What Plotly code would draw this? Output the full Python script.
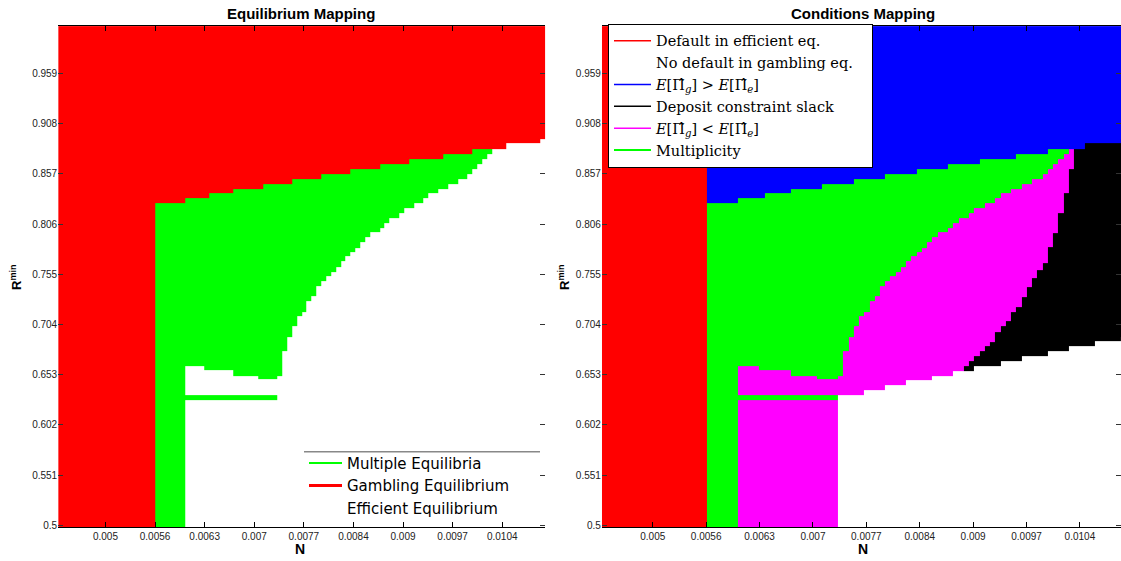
import plotly.graph_objects as go

# ---------------- grid / axes ----------------
N_FIRST_EDGE = 0.004352      # left edge of first N column
N_STEP = 0.0000668           # width of one N column
N_COLUMNS = 100
R_AXIS = [0.498, 1.0071]     # visible R^min window

N_TICK_VALUES = [0.005, 0.00568, 0.00636, 0.00704, 0.00772, 0.0084, 0.00908, 0.00976, 0.01044]
N_TICK_LABELS = ["0.005", "0.0056", "0.0063", "0.007", "0.0077", "0.0084", "0.009", "0.0097", "0.0104"]
R_TICK_VALUES = [0.5, 0.551, 0.602, 0.653, 0.704, 0.755, 0.806, 0.857, 0.908, 0.959]
R_TICK_LABELS = ["0.5", "0.551", "0.602", "0.653", "0.704", "0.755", "0.806", "0.857", "0.908", "0.959"]

# ---------------- regions ----------------
# N below which only the gambling equilibrium exists (default in efficient eq.)
DEFAULT_N_LIMIT = 0.005688

# thin horizontal multiplicity band
BAND_N = [0.006089, 0.007358]
BAND_R = [0.627, 0.632]

# per-column boundaries (R^min) for the 80 columns to the right of DEFAULT_N_LIMIT
# lower edge of the gambling region (red on the left, blue on the right)
GAMBLE_FLOOR = [
    0.827, 0.827, 0.827, 0.827, 0.827, 0.827,
    0.832, 0.832, 0.832, 0.832, 0.832,
    0.837, 0.837, 0.837, 0.837, 0.837,
    0.842, 0.842, 0.842, 0.842, 0.842, 0.842,
    0.847, 0.847, 0.847, 0.847, 0.847, 0.847,
    0.852, 0.852, 0.852, 0.852, 0.852, 0.852,
    0.857, 0.857, 0.857, 0.857, 0.857, 0.857,
    0.862, 0.862, 0.862, 0.862, 0.862, 0.862,
    0.867, 0.867, 0.867, 0.867, 0.867, 0.867,
    0.872, 0.872, 0.872, 0.872, 0.872, 0.872, 0.872,
    0.877, 0.877, 0.877, 0.877, 0.877, 0.877,
    0.882, 0.882, 0.882, 0.882, 0.882, 0.882, 0.882,
    0.888, 0.888, 0.888, 0.888, 0.888, 0.888, 0.888,
    0.892,
]

# lower edge of the main multiplicity region (None = no multiplicity)
MULTI_FLOOR = [
    0.5, 0.5, 0.5, 0.5, 0.5, 0.5,
    0.662, 0.662, 0.662, 0.662,
    0.658, 0.658, 0.658, 0.658, 0.658, 0.658,
    0.652, 0.652, 0.652, 0.652, 0.652,
    0.648, 0.648, 0.648, 0.648,
    0.652, 0.677, 0.691, 0.702, 0.712, 0.717, 0.728, 0.733, 0.743, 0.748,
    0.753, 0.757, 0.762, 0.768, 0.773, 0.777, 0.782, 0.788, 0.793, 0.798,
    0.798, 0.802, 0.807, 0.812, 0.812, 0.817, 0.822, 0.822, 0.827, 0.827,
    0.832, 0.837, 0.837, 0.842, 0.842, 0.847, 0.847, 0.852, 0.852, 0.857,
    0.862, 0.867, 0.872, 0.877,
    None, None, None, None, None, None, None, None, None, None, None,
]

# upper edge of the plain efficient region in the conditions map (None = absent)
EFFICIENT_CEIL = [
    None, None, None, None, None, None, None, None, None, None,
    None, None, None, None, None, None, None, None, None, None,
    None, None, None, None, None,
    0.632, 0.632, 0.632, 0.632, 0.632,
    0.637, 0.637, 0.637, 0.637,
    0.642, 0.642, 0.642, 0.642,
    0.647, 0.647, 0.647, 0.647, 0.647,
    0.652, 0.652, 0.652, 0.652,
    0.657, 0.657, 0.657, 0.657,
    0.662, 0.662, 0.662, 0.662, 0.662,
    0.667, 0.667, 0.667, 0.667,
    0.672, 0.672, 0.672, 0.672, 0.672,
    0.677, 0.677, 0.677, 0.677,
    0.682, 0.682, 0.682, 0.682, 0.682,
    0.687, 0.687, 0.687, 0.687, 0.687,
    0.691,
]

# upper edge of the "deposit constraint slack" region (None = absent)
SLACK_CEIL = [
    None, None, None, None, None, None, None, None, None, None,
    None, None, None, None, None, None, None, None, None, None,
    None, None, None, None, None, None, None, None, None, None,
    None, None, None, None, None, None, None, None, None, None,
    None, None, None, None, None, None, None, None, None,
    0.662, 0.667, 0.672, 0.677, 0.682, 0.686, 0.696, 0.702, 0.707, 0.717,
    0.722, 0.732, 0.742, 0.751, 0.759, 0.766, 0.783, 0.797, 0.817, 0.837,
    0.862, 0.882, 0.882,
    0.888, 0.888, 0.888, 0.888, 0.888, 0.888, 0.888,
    0.892,
]

# ---------------- build cells ----------------
WHITE, RED, GREEN, BLUE, MAGENTA, BLACK = range(6)
COLORS = ["#ffffff", "#ff0000", "#00ff00", "#0000ff", "#ff00ff", "#000000"]

n_edges = [N_FIRST_EDGE + i * N_STEP for i in range(N_COLUMNS + 1)]
n_centers = [(a + b) / 2 for a, b in zip(n_edges[:-1], n_edges[1:])]
offset = N_COLUMNS - len(GAMBLE_FLOOR)

bounds = set(BAND_R)
for lst in (GAMBLE_FLOOR, MULTI_FLOOR, EFFICIENT_CEIL, SLACK_CEIL):
    for v in lst:
        if v is not None and R_AXIS[0] + 0.003 < v < R_AXIS[1]:
            bounds.add(v)
r_edges = [R_AXIS[0]] + sorted(bounds) + [R_AXIS[1]]
r_centers = [(a + b) / 2 for a, b in zip(r_edges[:-1], r_edges[1:])]


def region(panel, k, r):
    n = n_centers[k]
    if n < DEFAULT_N_LIMIT:
        return RED
    j = k - offset
    if r >= GAMBLE_FLOOR[j]:
        return RED if panel == "left" else BLUE
    mf = MULTI_FLOOR[j]
    if mf is not None and r >= mf:
        return GREEN
    if BAND_N[0] <= n < BAND_N[1] and BAND_R[0] <= r < BAND_R[1]:
        return GREEN
    if panel == "left":
        return WHITE
    ec = EFFICIENT_CEIL[j]
    if ec is not None and r < ec:
        return WHITE
    sc = SLACK_CEIL[j]
    if sc is not None and r < sc:
        return BLACK
    return MAGENTA


z_left = [[region("left", k, r) for k in range(N_COLUMNS)] for r in r_centers]
z_right = [[region("right", k, r) for k in range(N_COLUMNS)] for r in r_centers]

colorscale = []
for i, c in enumerate(COLORS):
    colorscale += [[i / 6, c], [(i + 1) / 6, c]]

fig = go.Figure()
for z, xa, ya in ((z_left, "x", "y"), (z_right, "x2", "y2")):
    fig.add_trace(go.Heatmap(
        x=n_edges, y=r_edges, z=z, colorscale=colorscale, zmin=-0.5, zmax=5.5,
        showscale=False, hoverinfo="skip", showlegend=False, xaxis=xa, yaxis=ya,
    ))

# ---------------- legends ----------------
LEFT_LEGEND = [("Multiple Equilibria", "#00ff00", 2), ("Gambling Equilibrium", "#ff0000", 3),
               ("Efficient Equilibrium", "#ffffff", 2)]
RIGHT_LEGEND = [
    ("Default in efficient eq.", "#ff0000", 1.5),
    ("No default in gambling eq.&nbsp;&nbsp;&nbsp;", "#ffffff", 1.5),
    ("<i>E</i>[Π̂<sub><i>g</i></sub>] &gt; <i>E</i>[Π̂<sub><i>e</i></sub>]", "#0000ff", 1.5),
    ("Deposit constraint slack", "#000000", 1.5),
    ("<i>E</i>[Π̂<sub><i>g</i></sub>] &lt; <i>E</i>[Π̂<sub><i>e</i></sub>]", "#ff00ff", 1.5),
    ("Multiplicity", "#00ff00", 2),
]
for name, col, w in LEFT_LEGEND:
    fig.add_trace(go.Scatter(x=[None], y=[None], mode="lines", name=name,
                             line=dict(color=col, width=w), legend="legend", xaxis="x", yaxis="y"))
for name, col, w in RIGHT_LEGEND:
    fig.add_trace(go.Scatter(x=[None], y=[None], mode="lines", name=name,
                             line=dict(color=col, width=w), legend="legend2", xaxis="x2", yaxis="y2"))

W, H = 1121, 561
px = lambda v: v / W
py = lambda v: 1 - v / H

COL_PX_RIGHT = 5.245   # pixels per N column in the right panel
right_end = n_edges[0] + (W - 601.9) / COL_PX_RIGHT * N_STEP

tickfont = dict(family="Liberation Sans, Arial", size=10, color="#222222")
x_common = dict(tickvals=N_TICK_VALUES, ticktext=N_TICK_LABELS, ticks="inside", ticklen=5,
                tickcolor="#000000", showline=True, linecolor="#000000", linewidth=1, mirror="ticks",
                showgrid=False, zeroline=False, tickfont=tickfont)
y_common = dict(tickvals=R_TICK_VALUES, ticktext=R_TICK_LABELS, ticks="inside", ticklen=5,
                tickcolor="#333333", showline=False, mirror="ticks", range=R_AXIS,
                showgrid=False, zeroline=False, tickfont=tickfont, domain=[py(531), py(26.3)])


def ann(text, x, y, size, angle=0, height=None):
    d = dict(text=text, x=px(x), y=py(y), xref="paper", yref="paper", xanchor="center",
             yanchor="middle", showarrow=False, textangle=angle,
             font=dict(size=size, color="#000000"))
    if height:
        d["height"] = height
    return d


fig.update_layout(
    width=W, height=H, margin=dict(l=0, r=0, t=0, b=0),
    paper_bgcolor="#ffffff", plot_bgcolor="#ffffff",
    font=dict(family="Liberation Sans, Arial", color="#000000"),
    xaxis=dict(domain=[px(58.2), px(545.4)], range=[n_edges[0], n_edges[-1]], anchor="y", **x_common),
    yaxis=dict(anchor="x", **y_common),
    xaxis2=dict(domain=[px(601.9), 1.0], range=[n_edges[0], right_end], anchor="y2", **x_common),
    yaxis2=dict(anchor="x2", **y_common),
    legend=dict(x=px(304), y=py(450), xanchor="left", yanchor="top", bgcolor="rgba(255,255,255,0)",
                borderwidth=0, itemwidth=33, font=dict(family="DejaVu Sans", size=15, color="#000000"),
                tracegroupgap=0),
    legend2=dict(x=px(608), y=py(24), xanchor="left", yanchor="top", bgcolor="#ffffff",
                 bordercolor="#000000", borderwidth=1, itemwidth=37,
                 font=dict(family="DejaVu Serif", size=14.5, color="#000000"), tracegroupgap=0),
    shapes=[dict(type="line", xref="paper", yref="paper", x0=px(304), x1=px(540), y0=py(455), y1=py(455),
                 line=dict(color="#888888", width=1.5))],
    annotations=[
        ann("<b>Equilibrium Mapping</b>", 301, 14, 15),
        ann("<b>Conditions Mapping</b>", 863, 14, 15),
        ann("<b>N</b>", 300, 552, 14, height=15),
        ann("<b>N</b>", 862.5, 552, 14, height=15),
        ann("<b>R<sup>min</sup></b>", 16, 279, 13, -90),
        ann("<b>R<sup>min</sup></b>", 564, 279, 13, -90),
    ],
)

# the page body gets no margin so the 1121x561 figure fills the window exactly
fig.write_html("out.html", config={"displayModeBar": False, "staticPlot": True},
               post_script="document.body.style.margin='0';")
